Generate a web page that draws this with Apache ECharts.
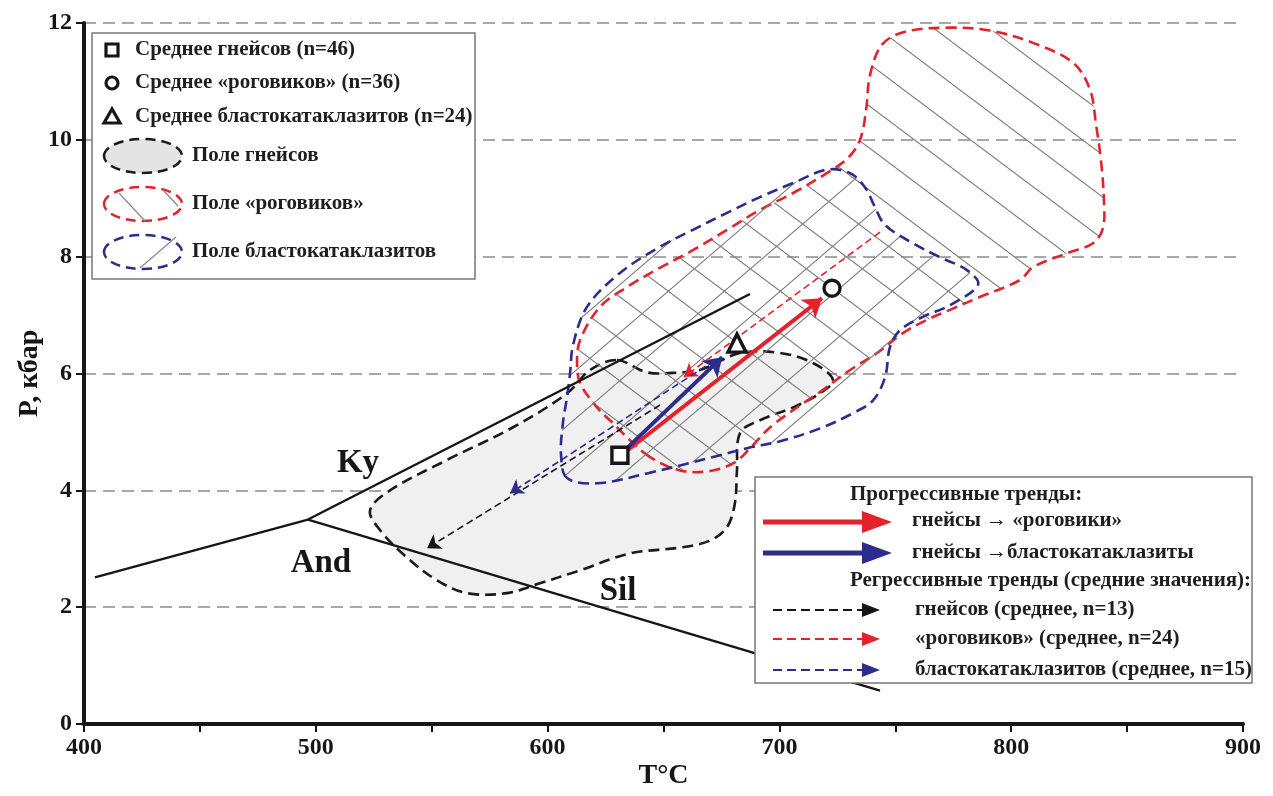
<!DOCTYPE html>
<html>
<head>
<meta charset="utf-8">
<script src="https://cdn.jsdelivr.net/npm/echarts@6/dist/echarts.min.js"></script>
<style>
html, body { margin: 0; background: #fff; }
#chart { width: 1273px; height: 796px; }
</style>
</head>
<body>
<div id="chart"></div>
<script>
// P-T diagram: T (°C) on x, P (kbar) on y

// aluminosilicate phase boundaries
const kyAnd = [[404.7, 2.51], [496.6, 3.50]];
const kySil = [[496.6, 3.50], [687.3, 7.36]];
const andSil = [[496.6, 3.50], [743.4, 0.57]];

// field outlines
const fieldGneiss = [
    [629.9, 6.23], [642.9, 6.02], [654.1, 6.01], [665.7, 6.06], [683.0, 6.35], [700.3, 6.35],
    [714.5, 6.18], [723.1, 5.89], [717.5, 5.66], [705.9, 5.42], [691.6, 5.20], [683.0, 4.98],
    [681.7, 4.34], [680.8, 3.78], [677.4, 3.37], [670.1, 3.14], [657.1, 3.02], [635.5, 2.92],
    [614.0, 2.63], [596.7, 2.41], [582.5, 2.24], [565.2, 2.24], [552.3, 2.46], [539.3, 2.85],
    [527.7, 3.32], [523.4, 3.66], [532.0, 4.00], [556.6, 4.52], [585.1, 5.08], [608.4, 5.66],
    [618.3, 6.06]
];
const fieldHornfels = [
    [644.2, 4.57], [635.5, 4.86], [628.2, 5.15], [621.3, 5.42], [614.0, 5.84], [612.7, 6.18],
    [614.0, 6.57], [622.6, 7.14], [634.3, 7.48], [648.5, 7.81], [662.7, 8.11], [677.4, 8.46],
    [691.6, 8.80], [705.9, 9.09], [720.5, 9.43], [729.6, 9.69], [734.8, 10.00], [737.4, 10.51],
    [739.1, 11.11], [744.3, 11.63], [754.2, 11.85], [773.6, 11.92], [790.9, 11.87], [809.4, 11.66],
    [826.7, 11.32], [834.0, 10.86], [836.6, 10.26], [838.7, 9.66], [840.0, 8.97], [839.6, 8.49],
    [835.3, 8.23], [824.1, 8.06], [809.4, 7.82], [803.8, 7.60], [786.5, 7.31], [773.6, 7.09],
    [763.7, 6.92], [753.3, 6.69], [742.1, 6.35], [730.5, 6.06], [718.8, 5.72], [697.2, 5.12],
    [687.3, 4.72], [680.8, 4.48], [670.1, 4.33], [657.1, 4.34]
];
const fieldBlasto = [
    [608.4, 4.21], [605.8, 4.60], [606.6, 5.15], [608.4, 5.60], [609.7, 6.01], [611.0, 6.49],
    [617.0, 7.14], [631.2, 7.72], [648.5, 8.17], [662.7, 8.46], [677.4, 8.75], [691.6, 9.02],
    [705.9, 9.26], [720.5, 9.49], [730.5, 9.43], [736.9, 9.19], [741.2, 8.85], [745.6, 8.54],
    [757.6, 8.23], [769.3, 7.99], [780.9, 7.77], [785.7, 7.52], [773.6, 7.17], [761.9, 6.97],
    [752.0, 6.74], [747.7, 6.45], [745.6, 5.94], [740.4, 5.54], [731.7, 5.32], [717.5, 5.06],
    [700.3, 4.84], [686.0, 4.72], [671.4, 4.57], [642.9, 4.29], [621.3, 4.12]
];

// mean compositions
const meanGneiss = [631.2, 4.60];
const meanHornfels = [722.7, 7.46];
const meanBlasto = [681.7, 6.52];

// progressive trends
const progHornfels = [[634.7, 4.69], [718.4, 7.29]];
const progBlasto = [[634.7, 4.74], [675.3, 6.28]];

// regressive trends (means)
const regrGneiss = [[648.5, 5.46], [548.0, 3.01]];
const regrHornfels = [[743.4, 8.42], [658.8, 5.94]];
const regrBlasto = [[672.2, 6.23], [583.8, 3.95]];

// phase labels
const phaseLabels = [
    { name: 'Ky', value: [518.2, 4.46] },
    { name: 'And', value: [502.2, 2.75] },
    { name: 'Sil', value: [630.4, 2.27] }
];

const RED = '#e3232b';
const BLUE = '#2b2c8c';
const INK = '#161616';
const SERIF = '"Liberation Serif", "Times New Roman", serif';

function hatch(w, h, dir) {
    const c = document.createElement('canvas');
    c.width = w;
    c.height = h;
    const g = c.getContext('2d');
    g.strokeStyle = '#7e7e7e';
    g.lineWidth = 1.1;
    for (let k = -1; k <= 1; k++) {
        g.beginPath();
        if (dir > 0) {
            g.moveTo(k * w, 0);
            g.lineTo(k * w + w, h);
        } else {
            g.moveTo(k * w, h);
            g.lineTo(k * w + w, 0);
        }
        g.stroke();
    }
    return { image: c, repeat: 'repeat' };
}

function field(name, pts, fill, stroke, z) {
    return {
        type: 'custom',
        name: name,
        coordinateSystem: 'cartesian2d',
        silent: true,
        z: z,
        data: pts,
        renderItem: function (params, api) {
            if (params.dataIndex !== 0) return;
            return {
                type: 'polygon',
                shape: { points: pts.map(p => api.coord(p)), smooth: 0.35 },
                style: { fill: fill, stroke: stroke, lineWidth: 2.6, lineDash: [11, 6] }
            };
        }
    };
}

function boundary(pts) {
    return {
        type: 'line', data: pts, symbol: 'none', silent: true, z: 4,
        lineStyle: { color: INK, width: 2.4 }
    };
}

function arrow(pts, color, width, dashed, size) {
    return {
        type: 'lines', coordinateSystem: 'cartesian2d', silent: true, z: 5,
        symbol: ['none', 'arrow'], symbolSize: size,
        lineStyle: { color: color, width: width, type: dashed ? [7, 4] : 'solid', opacity: 1 },
        data: [{ coords: pts }]
    };
}

function mean(p, symbol, size) {
    return {
        type: 'scatter', data: [p], symbol: symbol, symbolSize: size, silent: true, z: 6,
        itemStyle: { color: '#fff', borderColor: INK, borderWidth: 3.4, opacity: 1 }
    };
}

const legendFont = 'bold 21px ' + SERIF;
function txt(x, y, s) {
    return {
        type: 'text', z: 101,
        style: { text: s, x: x, y: y, font: legendFont, fill: '#1e1e1e', align: 'left', verticalAlign: 'middle', textVerticalAlign: 'middle' }
    };
}
function legendArrow(y, color, solid) {
    const x0 = solid ? 763 : 773;
    const tip = solid ? 892 : 880;
    const back = 862;
    const half = solid ? 11 : 7;
    return [
        {
            type: 'line', z: 101,
            shape: { x1: x0, y1: y, x2: back + 4, y2: y },
            style: { stroke: color, lineWidth: solid ? 5 : 2, lineDash: solid ? null : [9, 5] }
        },
        {
            type: 'polygon', z: 101,
            shape: { points: [[back, y - half], [tip, y], [back, y + half]] },
            style: { fill: color }
        }
    ];
}

const chart = echarts.init(document.getElementById('chart'));

chart.setOption({
    animation: false,
    backgroundColor: '#fff',
    grid: { left: 84, right: 30, top: 23, bottom: 72, outerBoundsMode: 'none' },
    xAxis: {
        type: 'value', min: 400, max: 900, interval: 50,
        name: 'T°C', nameLocation: 'middle', nameGap: 38, nameMoveOverlap: false,
        nameTextStyle: { fontFamily: SERIF, fontWeight: 'bold', fontSize: 28, color: INK },
        axisLine: { lineStyle: { color: INK, width: 4 } },
        axisTick: { length: 8, lineStyle: { color: INK, width: 2 } },
        axisLabel: {
            margin: 12, color: INK, fontFamily: SERIF, fontWeight: 'bold', fontSize: 24,
            formatter: v => (v % 100 === 0 ? String(v) : '')
        },
        splitLine: { show: false }
    },
    yAxis: {
        type: 'value', min: 0, max: 12, interval: 2,
        name: 'P, кбар', nameLocation: 'middle', nameGap: 40, nameRotate: 90, nameMoveOverlap: false,
        nameTextStyle: { fontFamily: SERIF, fontWeight: 'bold', fontSize: 28, color: INK },
        axisLine: { show: true, lineStyle: { color: INK, width: 4 } },
        axisTick: { show: true, length: 8, lineStyle: { color: INK, width: 2 } },
        axisLabel: { margin: 12, color: INK, fontFamily: SERIF, fontWeight: 'bold', fontSize: 24 },
        splitLine: { show: true, lineStyle: { color: '#8a8a8a', width: 1.6, type: [12, 7] } }
    },
    series: [
        field('gneiss', fieldGneiss, '#f0f0f0', '#1a1a1a', 1),
        field('hornfels', fieldHornfels, hatch(56, 42, 1), RED, 2),
        field('blasto', fieldBlasto, hatch(56, 48, -1), BLUE, 3),
        boundary(kyAnd),
        boundary(kySil),
        boundary(andSil),
        arrow(progHornfels, RED, 4, false, 18),
        arrow(progBlasto, BLUE, 4, false, 18),
        arrow(regrGneiss, INK, 1.6, true, 13),
        arrow(regrHornfels, RED, 1.6, true, 13),
        arrow(regrBlasto, BLUE, 1.6, true, 13),
        mean(meanGneiss, 'rect', 16),
        mean(meanHornfels, 'circle', 16),
        mean(meanBlasto, 'triangle', 18),
        {
            type: 'scatter', data: phaseLabels, symbolSize: 0, silent: true, z: 6,
            itemStyle: { opacity: 1 },
            label: {
                show: true, position: 'inside', formatter: '{b}', color: INK, opacity: 1,
                fontFamily: SERIF, fontWeight: 'bold', fontSize: 33
            }
        }
    ],
    graphic: [
        // upper-left legend
        { type: 'rect', z: 100, shape: { x: 92, y: 33, width: 383, height: 246 }, style: { fill: '#fff', stroke: '#777', lineWidth: 1.5 } },
        { type: 'rect', z: 101, shape: { x: 106, y: 44, width: 12, height: 12 }, style: { fill: '#fff', stroke: INK, lineWidth: 3.2 } },
        { type: 'circle', z: 101, shape: { cx: 112, cy: 83, r: 6 }, style: { fill: '#fff', stroke: INK, lineWidth: 3.2 } },
        { type: 'polygon', z: 101, shape: { points: [[112, 109], [104, 123], [120, 123]] }, style: { fill: '#fff', stroke: INK, lineWidth: 3.2 } },
        txt(135, 50, 'Среднее гнейсов (n=46)'),
        txt(135, 83, 'Среднее «роговиков» (n=36)'),
        txt(135, 117, 'Среднее бластокатаклазитов (n=24)'),
        { type: 'ellipse', z: 101, shape: { cx: 143, cy: 156, rx: 39, ry: 17 }, style: { fill: '#e4e4e4', stroke: '#1a1a1a', lineWidth: 2.5, lineDash: [10, 6] } },
        { type: 'ellipse', z: 101, shape: { cx: 143, cy: 204, rx: 39, ry: 17 }, style: { fill: '#fff', stroke: RED, lineWidth: 2.5, lineDash: [10, 6] } },
        { type: 'line', z: 101, shape: { x1: 119, y1: 193, x2: 145, y2: 221 }, style: { stroke: '#888', lineWidth: 1.2 } },
        { type: 'line', z: 101, shape: { x1: 163, y1: 190, x2: 178, y2: 206 }, style: { stroke: '#888', lineWidth: 1.2 } },
        { type: 'ellipse', z: 101, shape: { cx: 143, cy: 252, rx: 39, ry: 17 }, style: { fill: '#fff', stroke: BLUE, lineWidth: 2.5, lineDash: [10, 6] } },
        { type: 'line', z: 101, shape: { x1: 140, y1: 268, x2: 176, y2: 237 }, style: { stroke: '#888', lineWidth: 1.2 } },
        txt(192, 156, 'Поле гнейсов'),
        txt(192, 204, 'Поле «роговиков»'),
        txt(192, 252, 'Поле бластокатаклазитов'),
        // lower-right legend
        { type: 'rect', z: 100, shape: { x: 755, y: 477, width: 497, height: 206 }, style: { fill: '#fff', stroke: '#777', lineWidth: 1.5 } },
        txt(850, 495, 'Прогрессивные тренды:'),
        ...legendArrow(522, RED, true),
        txt(912, 521, 'гнейсы → «роговики»'),
        ...legendArrow(553, BLUE, true),
        txt(912, 553, 'гнейсы →бластокатаклазиты'),
        txt(850, 581, 'Регрессивные тренды (средние значения):'),
        ...legendArrow(610, INK, false),
        txt(915, 610, 'гнейсов (среднее, n=13)'),
        ...legendArrow(639, RED, false),
        txt(915, 639, '«роговиков» (среднее, n=24)'),
        ...legendArrow(670, BLUE, false),
        txt(915, 670, 'бластокатаклазитов (среднее, n=15)')
    ]
});
</script>
</body>
</html>
